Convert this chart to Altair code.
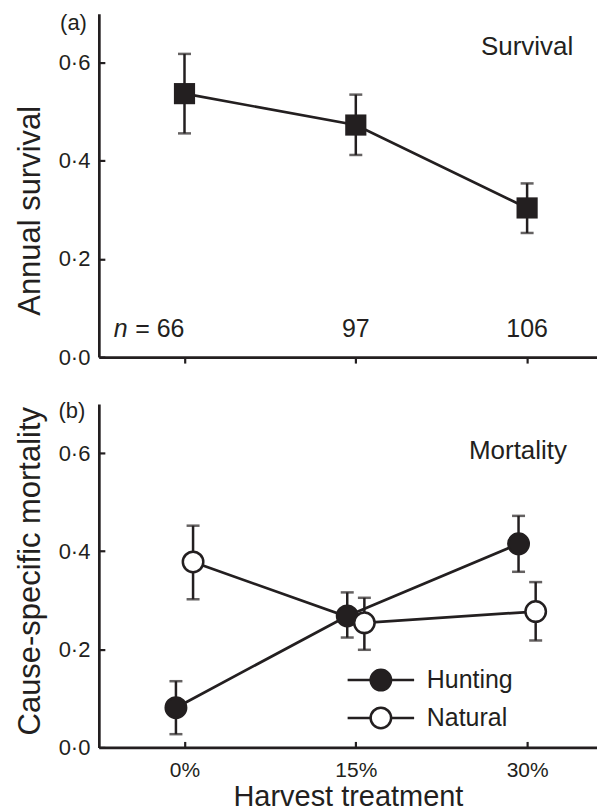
import altair as alt
import pandas as pd

# ---------------- data ----------------
treatments = [0, 15, 30]              # harvest treatment, %
sample_n = [66, 97, 106]

survival = [0.537, 0.473, 0.304]
survival_lo = [0.456, 0.412, 0.253]
survival_hi = [0.618, 0.535, 0.354]

causes = ["Hunting", "Natural"]
hunting = [0.081, 0.268, 0.415]
hunting_lo = [0.027, 0.224, 0.358]
hunting_hi = [0.135, 0.316, 0.472]
natural = [0.378, 0.254, 0.277]
natural_lo = [0.302, 0.199, 0.218]
natural_hi = [0.452, 0.305, 0.337]

y_ticks = [0.0, 0.2, 0.4, 0.6]
panel_tags = ["(a)", "(b)"]
panel_names = ["Survival", "Mortality"]

# ---------------- styling ----------------
INK = "#231f20"
FONT = "Liberation Sans"
W, H = 499, 344
XDOM = [-7.5, 36.12]
YDOM = [0, 0.7]
YLAB = "replace(format(datum.value, '.1f'), '.', '\u00b7')"
LW = 2.7      # data line width
EW = 2.5      # error bar width

common = dict(domainColor=INK, domainWidth=2.7, tickColor=INK, tickWidth=2.2,
              labelColor=INK, labelFont=FONT, titleFont=FONT, titleColor=INK,
              titleFontWeight="normal", grid=False)


def X(field=None, datum=None, axis=None):
    sc = alt.Scale(domain=XDOM, nice=False, zero=False)
    if datum is not None:
        return alt.X(datum=datum, type="quantitative", scale=sc, axis=axis)
    return alt.X(field, type="quantitative", scale=sc, axis=axis)


def Y(field=None, datum=None, axis=None):
    sc = alt.Scale(domain=YDOM, nice=False, zero=False)
    if datum is not None:
        return alt.Y(datum=datum, type="quantitative", scale=sc, axis=axis)
    return alt.Y(field, type="quantitative", scale=sc, axis=axis)


def y_main(title, title_y):
    return alt.Axis(orient="left", values=y_ticks, labelExpr=YLAB, ticks=False,
                    labelPadding=9, labelFontSize=22, title=title, titleFontSize=31,
                    titleX=-52, titleY=title_y, **common)


y_inner = alt.Axis(orient="right", offset=-W, values=y_ticks, labels=False,
                   domain=False, tickSize=6, title=None, **common)

one = pd.DataFrame({"k": [0]})

# ---------------- panel (a) ----------------
df_a = pd.DataFrame({"treatment": treatments, "value": survival,
                     "lo": survival_lo, "hi": survival_hi, "n": sample_n})
df_a["label"] = [("= " if i == 0 else "") + str(v) for i, v in enumerate(sample_n)]

x_top_axis = alt.Axis(orient="bottom", values=treatments, labels=False, tickSize=6,
                      title=None, **common)

base_a = alt.Chart(df_a)
a_rules = base_a.mark_rule(color=INK, strokeWidth=EW).encode(
    x=X("treatment", axis=x_top_axis), y=Y("lo", axis=y_main("Annual survival", 197)), y2="hi")
a_cap_lo = base_a.mark_tick(orient="horizontal", color=INK, size=13, thickness=EW).encode(
    x=X("treatment"), y=Y("lo"))
a_cap_hi = base_a.mark_tick(orient="horizontal", color=INK, size=13, thickness=EW).encode(
    x=X("treatment"), y=Y("hi"))
a_line = base_a.mark_line(color=INK, strokeWidth=LW).encode(x=X("treatment"), y=Y("value"))
a_pts = base_a.mark_point(shape="square", filled=True, color=INK, size=450, opacity=1).encode(
    x=X("treatment"), y=Y("value", axis=y_inner))
a_n_first = base_a.transform_filter("datum.treatment == 0").mark_text(
    align="right", baseline="alphabetic", font=FONT, fontSize=25, color=INK).encode(
    x=X("treatment"), y=Y(datum=0.04), text="label:N")
a_n_italic = base_a.transform_filter("datum.treatment == 0").mark_text(
    align="right", baseline="alphabetic", font=FONT, fontSize=25, fontStyle="italic",
    color=INK, dx=-57, text="n").encode(x=X("treatment"), y=Y(datum=0.04))
a_n_rest = base_a.transform_filter("datum.treatment > 0").mark_text(
    align="center", baseline="alphabetic", font=FONT, fontSize=25, color=INK).encode(
    x=X("treatment"), y=Y(datum=0.04), text="label:N")
a_name = alt.Chart(one).mark_text(align="center", baseline="alphabetic", font=FONT,
                                  fontSize=26, color=INK, text=panel_names[0]).encode(
    x=X(datum=30), y=Y(datum=0.615))
a_tag = alt.Chart(one).mark_text(align="center", baseline="middle", font=FONT,
                                 fontSize=22, color=INK, text=panel_tags[0]).encode(
    x=X(datum=-9.72), y=Y(datum=0.68))

panel_a = alt.layer(a_rules, a_cap_lo, a_cap_hi, a_line, a_pts, a_n_first, a_n_italic,
                    a_n_rest, a_name, a_tag).resolve_scale(
    x="independent", y="independent").properties(width=W, height=H)

# ---------------- panel (b) ----------------
rows = []
for cause, vals, los, his in [("Hunting", hunting, hunting_lo, hunting_hi),
                              ("Natural", natural, natural_lo, natural_hi)]:
    for t, v, lo, hi in zip(treatments, vals, los, his):
        rows.append({"treatment": t, "cause": cause, "value": v, "lo": lo, "hi": hi})
df_b = pd.DataFrame(rows)

x_bot_axis = alt.Axis(orient="bottom", values=treatments, labelExpr="datum.value + '%'",
                      ticks=False, labelPadding=12, labelFontSize=21,
                      title="Harvest treatment", titleFontSize=29, titlePadding=2, **common)
x_inner = alt.Axis(orient="top", offset=-H, values=treatments, labels=False, domain=False,
                   tickSize=6, title=None, **common)

legend_symbol = "M-3.25,0H-1M1,0H3.25M-1,0A1,1,0,1,1,1,0A1,1,0,1,1,-1,0Z"

base_b = alt.Chart(df_b).transform_calculate(
    xpos="datum.treatment + (datum.cause == 'Hunting' ? -0.75 : 0.75)")
b_rules = base_b.mark_rule(color=INK, strokeWidth=EW).encode(
    x=X("xpos", axis=x_bot_axis),
    y=Y("lo", axis=y_main("Cause-specific mortality", 167)), y2="hi", detail="cause:N")
b_cap_lo = base_b.mark_tick(orient="horizontal", color=INK, size=13, thickness=EW).encode(
    x=X("xpos"), y=Y("lo"), detail="cause:N")
b_cap_hi = base_b.mark_tick(orient="horizontal", color=INK, size=13, thickness=EW).encode(
    x=X("xpos"), y=Y("hi"), detail="cause:N")
b_line = base_b.mark_line(color=INK, strokeWidth=LW).encode(
    x=X("xpos"), y=Y("value"), detail="cause:N")
b_pts = base_b.mark_circle(size=420, stroke=INK, strokeWidth=EW, opacity=1).encode(
    x=X("xpos", axis=x_inner), y=Y("value", axis=y_inner),
    fill=alt.Fill("cause:N", scale=alt.Scale(domain=causes, range=[INK, "white"]),
                  legend=alt.Legend(title=None, orient="none", legendX=270, legendY=264,
                                    direction="vertical", symbolType=legend_symbol,
                                    symbolSize=420, symbolStrokeColor=INK,
                                    symbolStrokeWidth=EW, symbolOpacity=1,
                                    labelFont=FONT, labelFontSize=25, labelColor=INK,
                                    labelOffset=33.5, rowPadding=7, padding=0)))
b_name = alt.Chart(one).mark_text(align="center", baseline="alphabetic", font=FONT,
                                  fontSize=26, color=INK, text=panel_names[1]).encode(
    x=X(datum=29.2), y=Y(datum=0.588))
b_tag = alt.Chart(one).mark_text(align="center", baseline="middle", font=FONT,
                                 fontSize=22, color=INK, text=panel_tags[1]).encode(
    x=X(datum=-9.86), y=Y(datum=0.685))

panel_b = alt.layer(b_rules, b_cap_lo, b_cap_hi, b_line, b_pts, b_name, b_tag).resolve_scale(
    x="independent", y="independent").properties(width=W, height=H)

chart = alt.vconcat(panel_a, panel_b, spacing=32).resolve_legend(
    fill="independent").configure_view(stroke=None).properties(
    padding={"left": 7, "top": 3, "right": 0, "bottom": 0})

chart.save("out.html", embed_options={"renderer": "svg", "actions": False})
